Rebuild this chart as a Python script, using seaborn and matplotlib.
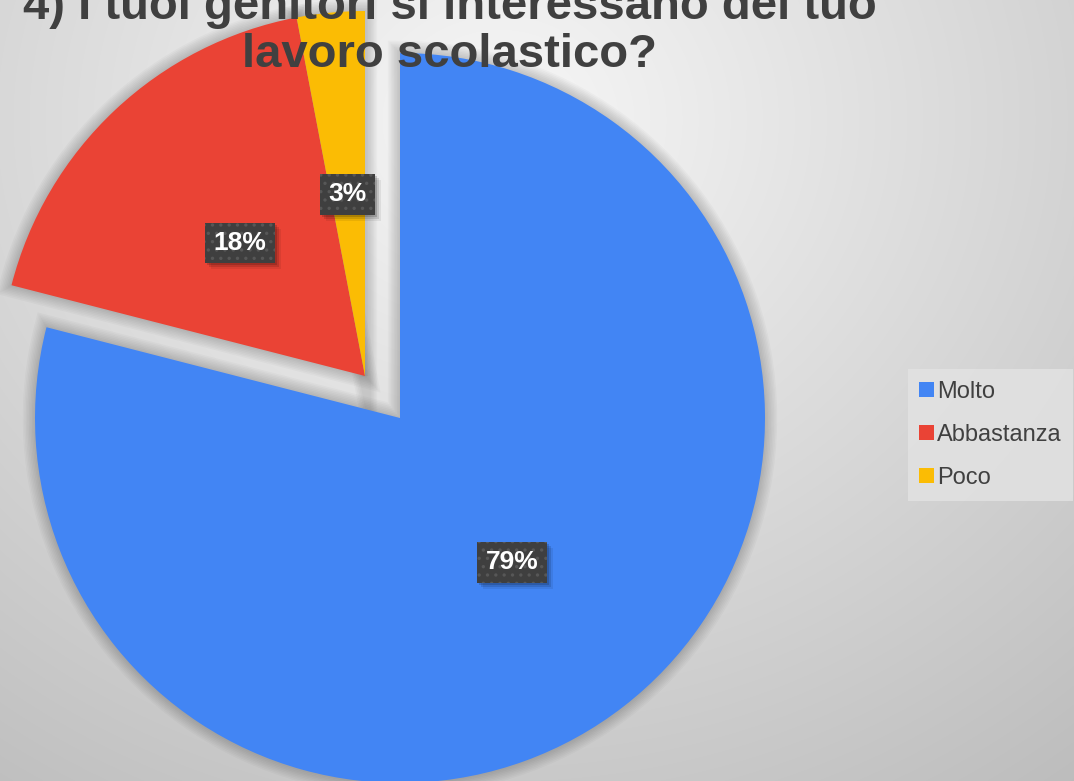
import copy
import numpy as np
import matplotlib
matplotlib.use("Agg")
import matplotlib.pyplot as plt
from matplotlib.patches import Rectangle
import seaborn as sns

categories = ["Molto", "Abbastanza", "Poco"]
values = [79, 18, 3]
colors = ["#4285F4", "#EA4335", "#FBBC04"]
title = "4) I tuoi genitori si interessano del tuo\nlavoro scolastico?"

sns.set_theme(style="white")
plt.rcParams["font.family"] = ["Liberation Sans", "DejaVu Sans"]
plt.rcParams["hatch.linewidth"] = 1.2

W, H = 1074, 781
fig = plt.figure(figsize=(W / 100, H / 100), dpi=100)

# background radial gradient
bg = fig.add_axes([0, 0, 1, 1])
yy, xx = np.mgrid[0:H, 0:W]
d = np.sqrt(((xx - 500) / 900.0) ** 2 + ((yy - 120) / 800.0) ** 2)
g = np.clip(0.97 - 0.22 * d, 0.74, 0.97)
bg.imshow(np.dstack([g, g, g]), extent=[0, W, 0, H], origin="upper", aspect="auto")
bg.set_axis_off()

ax = fig.add_axes([0, 0, 1, 1])
ax.patch.set_alpha(0)
cx, cy, R = 400, H - 418, 365
off = np.array([-35, 42])

# soft shadow of the slices
wedges_sh, _ = ax.pie(values, startangle=90, counterclock=False, radius=R,
                      center=(cx, cy), colors=["none"] * 3, frame=True)
for i, w in enumerate(wedges_sh):
    if i > 0:
        w.set_center((cx + off[0], cy + off[1]))
    for k in range(1, 9):
        c = copy.copy(w)
        c.set_linewidth(k * 2.2)
        c.set_edgecolor((0, 0, 0, 0.022))
        c.set_facecolor("none")
        ax.add_patch(c)
    w.set_visible(False)

wedges, texts, autotexts = ax.pie(
    values, labels=None, colors=colors, startangle=90, counterclock=False,
    radius=R, center=(cx, cy), autopct="%d%%", pctdistance=0.5, frame=True,
    wedgeprops=dict(linewidth=0),
    textprops=dict(color="white", fontsize=19, fontweight="bold"))

for i, (w, t) in enumerate(zip(wedges, autotexts)):
    if i > 0:
        w.set_center((cx + off[0], cy + off[1]))
        x, y = t.get_position()
        t.set_position((x + off[0], y + off[1]))
    t.set_bbox(dict(boxstyle="square,pad=0.32", facecolor="#3f3f3f",
                    edgecolor="#575757", linewidth=0, hatch=".."))
    t.set_zorder(10)

ax.set_xlim(0, W)
ax.set_ylim(0, H)
ax.set_aspect("auto")
ax.set_axis_off()

# soft shadows behind the label boxes (sized from the rendered boxes)
fig.canvas.draw()
renderer = fig.canvas.get_renderer()
for t in autotexts:
    bb = t.get_bbox_patch().get_window_extent(renderer)
    for k, a in [(2, 0.16), (4, 0.12), (6, 0.07)]:
        r = Rectangle((bb.x0 + k, bb.y0 - k), bb.width, bb.height, transform=None,
                      facecolor=(0, 0, 0, a), edgecolor="none", zorder=8)
        ax.add_artist(r)

fig.text(450 / W, 1 - 67 / H, title, ha="center", va="baseline", fontsize=34,
         fontweight="bold", color="#404040", linespacing=1.13, multialignment="center")

leg = ax.legend(wedges, categories, loc="center left",
                bbox_to_anchor=(908 / W, 1 - 435 / H), bbox_transform=fig.transFigure,
                fontsize=17, frameon=True, fancybox=False, handlelength=0.6,
                handleheight=0.6, handletextpad=0.15, labelspacing=0.9,
                borderpad=0.48, borderaxespad=0)
leg.get_frame().set_facecolor("#e3e3e3")
leg.get_frame().set_edgecolor("none")
for t in leg.get_texts():
    t.set_color("#404040")

fig.savefig("out.png", dpi=100)
